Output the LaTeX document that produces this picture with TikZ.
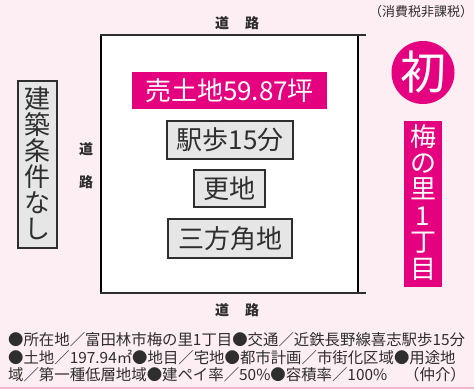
\documentclass[tikz,border=0pt]{standalone}
\usepackage{fontspec}
\setmainfont{Noto Sans CJK JP}
\definecolor{bg}{HTML}{FDEEF3}
\definecolor{mag}{HTML}{E4007F}
\definecolor{ink}{HTML}{2E2E2E}
\definecolor{boxfill}{HTML}{E6E6E6}
\definecolor{bline}{HTML}{F2B8D0}
\begin{document}
\begin{tikzpicture}[x=1pt,y=-1pt,
  graybox/.style={draw=ink, line width=1.4pt, fill=boxfill, text=ink, font=\fontsize{26}{26}\selectfont, inner sep=0pt},
  magbox/.style={fill=mag, text=white, font=\fontsize{26}{26}\selectfont, inner sep=0pt},
  roadlbl/.style={text=ink, font=\fontsize{14}{14}\selectfont\bfseries, inner sep=0pt},
  info/.style={text=ink, font=\fontsize{15.4}{15.4}\selectfont, inner sep=0pt, anchor=west},
  vtext/.style={align=center}
]
\fill[bg] (0,0) rectangle (474,389);
\useasboundingbox (0,0) rectangle (474,389);
\draw[bline, line width=1.5pt] (0,388) -- (474,388);
% site plot
\fill[white] (101,35) rectangle (358,293);
\draw[black, line width=1.4pt] (101,35) -- (101,293);
\draw[black, line width=1.4pt] (358,35) -- (358,293);
\draw[ink, line width=1.6pt] (100.3,35) -- (366,35);
\draw[ink, line width=1.6pt] (100.3,293) -- (366,293);
% road labels
\node[roadlbl] (t1) at (222,23) {道};
\node[roadlbl] (t2) at (252,23) {路};
\node[roadlbl] (b1) at (222,310) {道};
\node[roadlbl] (b2) at (252,310) {路};
\node[roadlbl] (l1) at (86,149) {道};
\node[roadlbl] (l2) at (86,182) {路};
% centre boxes
\node[magbox, minimum width=195, minimum height=37] (sale) at (229.5,90.5) {売土地59.87坪};
\node[graybox, minimum width=126, minimum height=38] (eki) at (230,140) {駅歩15分};
\node[graybox, minimum width=71, minimum height=37] (sara) at (229.5,188.5) {更地};
\node[graybox, minimum width=124, minimum height=39] (kado) at (230,238.5) {三方角地};
% left vertical box
\node[graybox, minimum width=39, minimum height=167] (joken) at (37.5,164.5) {};
\node[text=ink, font=\fontsize{26}{26}\selectfont, vtext, inner sep=0pt] (jokentxt) at (37.5,163.5) {建\\築\\条\\件\\な\\し};
% right side
\node[circle, fill=mag, minimum size=63, inner sep=0pt, text=white, font=\fontsize{46}{46}\selectfont] (hatsu) at (423,72.5) {初};
\node[magbox, minimum width=38, minimum height=166] (ume) at (423,204) {};
\node[text=white, font=\fontsize{26}{26.4}\selectfont, vtext, inner sep=0pt] (umetxt) at (423,202) {梅\\の\\里\\1\\丁\\目};
\node[text=ink, font=\fontsize{13}{13}\selectfont, inner sep=0pt] (tax) at (421,12) {（消費税非課税）};
% info lines
\node[info] (i1) at (8,340) {●所在地／富田林市梅の里1丁目●交通／近鉄長野線喜志駅歩15分};
\node[info] (i2) at (8,357.5) {●土地／197.94㎡●地目／宅地●都市計画／市街化区域●用途地};
\node[info] (i3) at (8,374.5) {域／第一種低層地域●建ペイ率／50\%●容積率／100\%};
\node[info, anchor=east] (i4) at (466,374.5) {（仲介）};
\end{tikzpicture}
\end{document}
